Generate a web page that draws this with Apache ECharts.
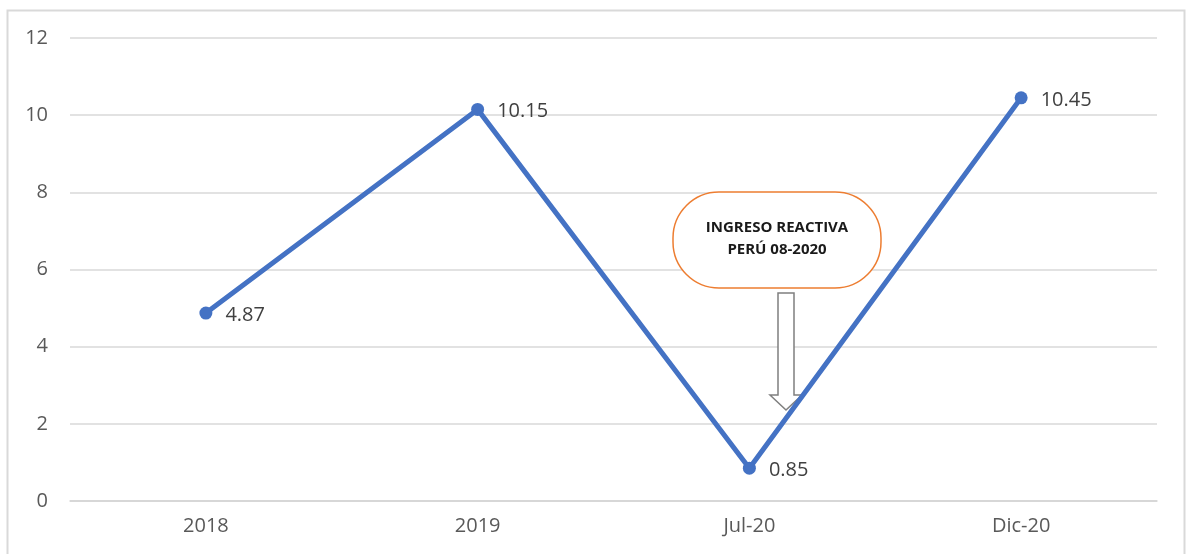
<!DOCTYPE html>
<html>
<head>
<meta charset="utf-8">
<script src="https://cdn.jsdelivr.net/npm/echarts@6/dist/echarts.min.js"></script>
<style>
  html, body { margin: 0; padding: 0; background: #fff; }
  #chart { width: 1188px; height: 554px; }
</style>
</head>
<body>
<div id="chart"></div>
<script>
var categories = ["2018", "2019", "Jul-20", "Dic-20"];
var values = [4.87, 10.15, 0.85, 10.45];
var noteLines = ["INGRESO REACTIVA", "PERÚ 08-2020"];

var chart = echarts.init(document.getElementById("chart"));
var font = "Open Sans, Liberation Sans, sans-serif";

chart.setOption({
  backgroundColor: "#ffffff",
  animation: false,
  grid: { left: 70, right: 31, top: 38, bottom: 53 },
  xAxis: {
    type: "category",
    data: categories,
    boundaryGap: true,
    axisLine: { lineStyle: { color: "#d4d4d4", width: 1.5 } },
    axisTick: { show: false },
    axisLabel: { color: "#595959", fontSize: 20, fontFamily: font, margin: 15 }
  },
  yAxis: {
    type: "value",
    min: 0,
    max: 12,
    interval: 2,
    axisLine: { show: false },
    axisTick: { show: false },
    axisLabel: { color: "#595959", fontSize: 20, fontFamily: font, margin: 22 },
    splitLine: { lineStyle: { color: "#d9d9d9", width: 1.5 } }
  },
  series: [
    {
      type: "line",
      data: values,
      z: 5,
      symbol: "circle",
      symbolSize: 13,
      itemStyle: { color: "#4472c4" },
      lineStyle: { color: "#4472c4", width: 5 },
      label: {
        show: true,
        position: "right",
        distance: 13,
        color: "#404040",
        fontSize: 20,
        fontFamily: font,
        offset: [0, 2]
      }
    }
  ],
  graphic: [
    {
      type: "rect",
      z: -10,
      silent: true,
      shape: { x: 7.5, y: 10.5, width: 1177, height: 570 },
      style: { fill: "none", stroke: "#d9d9d9", lineWidth: 2 }
    },
    {
      type: "rect",
      z: 1,
      shape: { x: 673, y: 192, width: 208, height: 96, r: 46 },
      style: { fill: "#ffffff", stroke: "#ed7d31", lineWidth: 1.5 }
    },
    {
      type: "text",
      z: 2,
      style: {
        x: 777, y: 239,
        text: noteLines.join("\n"),
        align: "center",
        verticalAlign: "middle",
        lineHeight: 22,
        fontSize: 15,
        fontWeight: "bold",
        fontFamily: font,
        fill: "#1a1a1a"
      }
    },
    {
      type: "polygon",
      z: 1,
      shape: {
        points: [[778, 293], [794, 293], [794, 395], [802, 395], [786, 410], [770, 395], [778, 395]]
      },
      style: { fill: "#ffffff", stroke: "#7f7f7f", lineWidth: 1.5 }
    }
  ]
});
</script>
</body>
</html>
